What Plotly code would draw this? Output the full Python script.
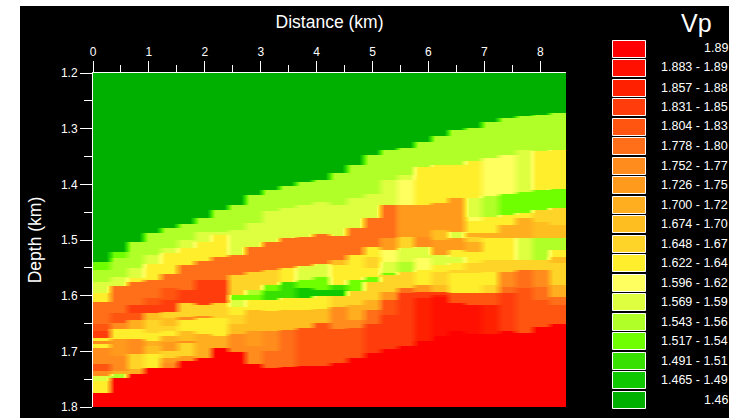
import numpy as np
import plotly.graph_objects as go

W, H = 729, 418
L, R, T, B = 93, 566, 73, 407

max_distance = 8.46
max_depth = 1.8
min_depth = 1.2

legend_labels = ["1.89", "1.883 - 1.89", "1.857 - 1.88", "1.831 - 1.85", "1.804 - 1.83",
                 "1.778 - 1.80", "1.752 - 1.77", "1.726 - 1.75", "1.700 - 1.72", "1.674 - 1.70",
                 "1.648 - 1.67", "1.622 - 1.64", "1.596 - 1.62", "1.569 - 1.59", "1.543 - 1.56",
                 "1.517 - 1.54", "1.491 - 1.51", "1.465 - 1.49", "1.46"]
legend_colors = ["#ff0000", "#ff1000", "#ff2000", "#ff3c0c", "#ff5510",
                 "#ff6e18", "#ff8c1c", "#ff9a1c", "#ffae20", "#ffbe20",
                 "#ffd428", "#ffee2c", "#ffff60", "#ddff40", "#b0ff28",
                 "#70ff00", "#38e000", "#10c800", "#00b000"]
class_values = [1.89, 1.886, 1.87, 1.844, 1.817, 1.791, 1.765, 1.739, 1.713, 1.687,
                1.661, 1.635, 1.609, 1.582, 1.556, 1.53, 1.504, 1.478, 1.46]

# One entry per model column: bottom depth of each layer (km) and its Vp (km/s)
layer_bottoms = [
    [1.539,1.554,1.575,1.595,1.611,1.649,1.661,1.674,1.679,1.685,1.692,1.721,1.733,1.742,1.751,1.773,1.8],
    [1.521,1.532,1.566,1.582,1.631,1.647,1.658,1.676,1.706,1.733,1.739,1.747,1.8],
    [1.503,1.550,1.568,1.575,1.616,1.631,1.643,1.658,1.676,1.703,1.730,1.739,1.8],
    [1.487,1.527,1.543,1.572,1.604,1.616,1.631,1.643,1.665,1.679,1.688,1.703,1.728,1.8],
    [1.478,1.514,1.523,1.561,1.586,1.607,1.629,1.640,1.652,1.661,1.670,1.681,1.697,1.711,1.720,1.728,1.8],
    [1.471,1.500,1.514,1.545,1.590,1.613,1.638,1.643,1.661,1.679,1.683,1.706,1.715,1.8],
    [1.460,1.485,1.503,1.537,1.572,1.616,1.636,1.640,1.667,1.710,1.8],
    [1.446,1.485,1.491,1.530,1.572,1.613,1.640,1.670,1.692,1.8],
    [1.437,1.482,1.527,1.563,1.598,1.607,1.620,1.634,1.649,1.667,1.699,1.8],
    [1.419,1.469,1.512,1.557,1.590,1.598,1.607,1.625,1.661,1.688,1.722,1.8],
    [1.410,1.448,1.503,1.554,1.581,1.591,1.607,1.627,1.661,1.697,1.728,1.8],
    [1.403,1.442,1.496,1.550,1.575,1.604,1.625,1.660,1.726,1.8],
    [1.396,1.437,1.494,1.546,1.572,1.586,1.604,1.625,1.656,1.724,1.8],
    [1.392,1.432,1.489,1.543,1.566,1.590,1.600,1.624,1.647,1.724,1.8],
    [1.380,1.437,1.493,1.536,1.545,1.581,1.590,1.600,1.620,1.658,1.719,1.8],
    [1.365,1.424,1.478,1.527,1.572,1.591,1.616,1.643,1.656,1.710,1.8],
    [1.347,1.417,1.460,1.512,1.530,1.550,1.566,1.575,1.607,1.625,1.649,1.701,1.8],
    [1.338,1.392,1.437,1.496,1.518,1.539,1.559,1.563,1.593,1.607,1.634,1.694,1.8],
    [1.335,1.383,1.392,1.437,1.494,1.514,1.539,1.557,1.586,1.595,1.688,1.8],
    [1.324,1.369,1.437,1.494,1.512,1.532,1.554,1.581,1.593,1.604,1.679,1.8],
    [1.313,1.365,1.433,1.482,1.500,1.527,1.545,1.557,1.581,1.593,1.598,1.602,1.670,1.8],
    [1.302,1.365,1.424,1.485,1.496,1.518,1.530,1.541,1.554,1.559,1.595,1.613,1.661,1.8],
    [1.299,1.358,1.424,1.458,1.465,1.487,1.494,1.503,1.521,1.541,1.559,1.595,1.616,1.667,1.8],
    [1.288,1.353,1.421,1.458,1.487,1.496,1.536,1.557,1.581,1.595,1.616,1.667,1.8],
    [1.281,1.347,1.417,1.455,1.473,1.496,1.536,1.557,1.584,1.595,1.661,1.8],
    [1.277,1.338,1.414,1.451,1.460,1.496,1.536,1.554,1.586,1.665,1.8],
    [1.274,1.340,1.410,1.446,1.467,1.496,1.536,1.554,1.584,1.607,1.654,1.8],
    [1.272,1.338,1.408,1.442,1.473,1.496,1.518,1.530,1.541,1.581,1.602,1.616,1.649,1.8],
]
layer_vp = [
    [1.46,1.53,1.556,1.582,1.635,1.791,1.817,1.844,1.635,1.765,1.635,1.765,1.817,1.765,1.582,1.635,1.89],
    [1.46,1.53,1.556,1.582,1.791,1.817,1.765,1.635,1.739,1.765,1.713,1.556,1.89],
    [1.46,1.556,1.582,1.635,1.791,1.844,1.817,1.713,1.635,1.765,1.661,1.713,1.89],
    [1.46,1.556,1.582,1.635,1.791,1.817,1.844,1.687,1.661,1.635,1.713,1.687,1.635,1.89],
    [1.46,1.556,1.582,1.635,1.791,1.817,1.844,1.661,1.687,1.661,1.635,1.713,1.739,1.661,1.739,1.765,1.89],
    [1.46,1.556,1.582,1.635,1.791,1.844,1.661,1.765,1.635,1.687,1.765,1.661,1.739,1.89],
    [1.46,1.556,1.582,1.635,1.791,1.844,1.661,1.765,1.635,1.713,1.89],
    [1.46,1.556,1.582,1.635,1.791,1.844,1.661,1.635,1.713,1.89],
    [1.46,1.556,1.582,1.791,1.661,1.53,1.582,1.635,1.661,1.687,1.765,1.89],
    [1.46,1.556,1.582,1.791,1.661,1.556,1.53,1.635,1.687,1.739,1.765,1.89],
    [1.46,1.556,1.582,1.791,1.661,1.53,1.504,1.635,1.687,1.765,1.791,1.89],
    [1.46,1.556,1.582,1.791,1.635,1.504,1.635,1.687,1.791,1.89],
    [1.46,1.556,1.582,1.791,1.582,1.53,1.478,1.635,1.687,1.817,1.89],
    [1.46,1.556,1.582,1.791,1.582,1.53,1.478,1.635,1.687,1.817,1.89],
    [1.46,1.556,1.582,1.791,1.687,1.635,1.504,1.478,1.661,1.765,1.817,1.89],
    [1.46,1.556,1.582,1.791,1.635,1.53,1.661,1.713,1.765,1.817,1.89],
    [1.46,1.556,1.582,1.791,1.635,1.661,1.635,1.53,1.661,1.713,1.791,1.844,1.89],
    [1.46,1.556,1.582,1.791,1.739,1.609,1.582,1.53,1.661,1.739,1.817,1.844,1.89],
    [1.46,1.556,1.582,1.609,1.739,1.661,1.582,1.556,1.661,1.791,1.844,1.89],
    [1.46,1.556,1.635,1.739,1.765,1.582,1.609,1.635,1.739,1.844,1.87,1.89],
    [1.46,1.556,1.635,1.739,1.687,1.739,1.582,1.635,1.661,1.687,1.844,1.87,1.886,1.89],
    [1.46,1.556,1.635,1.739,1.582,1.739,1.635,1.582,1.635,1.661,1.635,1.817,1.886,1.89],
    [1.46,1.556,1.635,1.582,1.609,1.635,1.713,1.661,1.713,1.635,1.661,1.635,1.817,1.886,1.89],
    [1.46,1.556,1.609,1.556,1.635,1.713,1.635,1.661,1.635,1.661,1.817,1.87,1.89],
    [1.46,1.556,1.609,1.53,1.635,1.713,1.635,1.661,1.765,1.791,1.844,1.89],
    [1.46,1.556,1.582,1.53,1.635,1.713,1.582,1.661,1.791,1.817,1.89],
    [1.46,1.556,1.635,1.53,1.661,1.687,1.556,1.661,1.765,1.791,1.817,1.89],
    [1.46,1.556,1.635,1.53,1.661,1.687,1.556,1.635,1.687,1.661,1.713,1.791,1.817,1.89],
]

# Rasterise the layer table: each depth sample takes the Vp of the layer it falls in.
depths = np.arange(min_depth, max_depth + 1e-9, 0.0018)
n_col = len(layer_bottoms)
sub = 2
xs = (np.arange(n_col * sub) + 0.5) * max_distance / (n_col * sub)
z = np.zeros((len(depths), n_col * sub))
for c in range(n_col):
    idx = np.searchsorted(layer_bottoms[c], depths, side="left")
    idx = np.minimum(idx, len(layer_vp[c]) - 1)
    col = np.array(layer_vp[c])[idx]
    z[:, c * sub:(c + 1) * sub] = col[:, None]

vmin, vmax = min(class_values), max(class_values)
pairs = sorted(zip(class_values, legend_colors))
colorscale = [[(v - vmin) / (vmax - vmin), c] for v, c in pairs]


def px(x):
    return (x - L) / (R - L)


def py(y):
    return (B - y) / (B - T)


fig = go.Figure(go.Heatmap(x=xs, y=depths, z=z, colorscale=colorscale, zmin=vmin, zmax=vmax,
                           zsmooth="best", showscale=False, hoverinfo="skip"))

shapes = [dict(type="rect", xref="paper", yref="paper", x0=px(20), x1=px(W), y0=py(6), y1=py(H),
               fillcolor="black", line_width=0, layer="below")]
annotations = []
for i, (lab, colr) in enumerate(zip(legend_labels, legend_colors)):
    top = int(40 + 19.5 * i) + 0.5
    shapes.append(dict(type="rect", xref="paper", yref="paper", x0=px(612.5), x1=px(645.5),
                       y0=py(top), y1=py(top + 17), fillcolor=colr,
                       line=dict(color="white", width=1)))
    annotations.append(dict(xref="paper", yref="paper", x=px(730), y=py(top + 8), text=lab,
                            showarrow=False, xanchor="right", yanchor="middle",
                            font=dict(family="Liberation Sans", size=12.5, color="white")))
annotations.append(dict(xref="paper", yref="paper", x=px(696), y=py(23), text="Vp", showarrow=False,
                        xanchor="center", yanchor="middle",
                        font=dict(family="Liberation Sans", size=25, color="white")))

axis_font = dict(family="Liberation Sans", size=12, color="white")
title_font = dict(family="Liberation Sans", size=17.5, color="white")
common = dict(showgrid=False, zeroline=False, showline=True, linecolor="white", linewidth=1,
              ticks="outside", tickcolor="white", tickwidth=1, tickfont=axis_font, automargin=False)
fig.update_layout(
    width=W, height=H, margin=dict(l=L, r=W - R, t=T, b=H - B, autoexpand=False),
    paper_bgcolor="white", plot_bgcolor="black",
    shapes=shapes, annotations=annotations, showlegend=False,
    xaxis=dict(side="top", range=[0, max_distance], dtick=1, ticklen=11,
               minor=dict(dtick=0.5, ticks="outside", ticklen=7, tickcolor="white", tickwidth=1),
               title=dict(text="Distance (km)", font=title_font, standoff=12), **common),
    yaxis=dict(range=[max_depth, min_depth], dtick=0.1, tickformat=".1f", ticklen=12,
               minor=dict(dtick=0.05, ticks="outside", ticklen=8, tickcolor="white", tickwidth=1),
               title=dict(text="Depth (km)", font=title_font, standoff=14), **common),
)
fig.write_html("out.html", config=dict(displayModeBar=False),
               post_script="document.body.style.margin='0';document.body.style.overflow='hidden';")
